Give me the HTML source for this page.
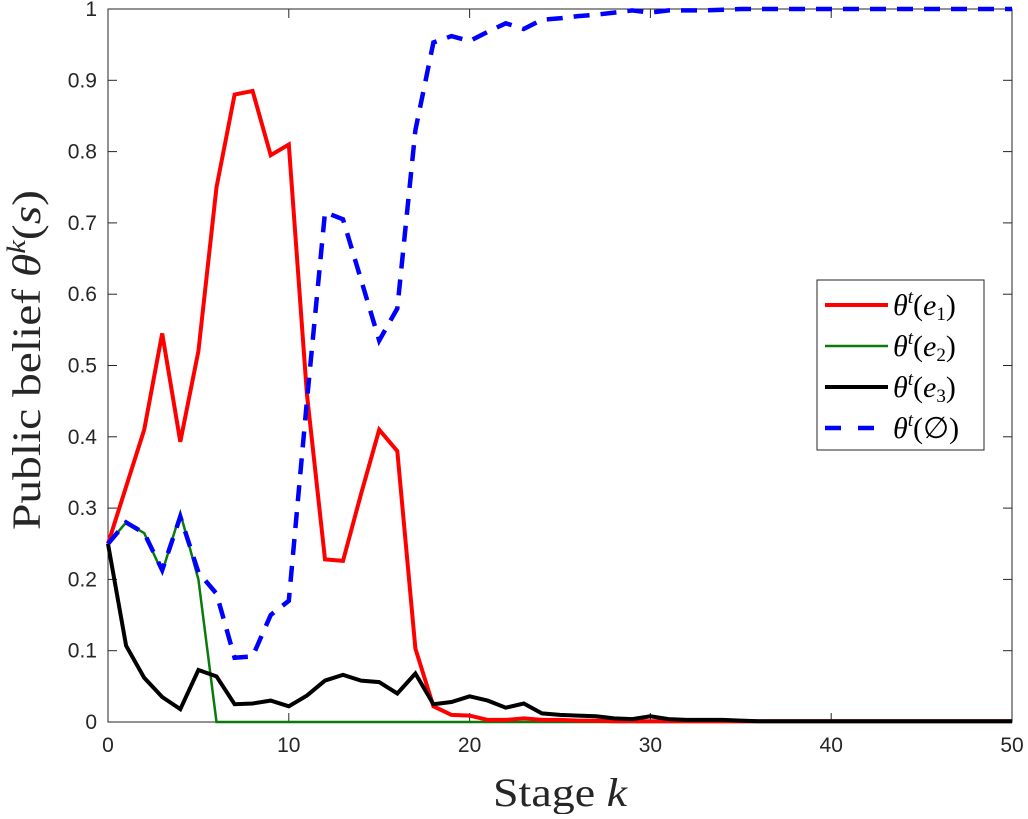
<!DOCTYPE html>
<html><head><meta charset="utf-8"><style>
body{margin:0;background:#fff;width:1028px;height:814px;overflow:hidden}
svg text{font-family:"Liberation Sans",sans-serif}
.s{font-family:"Liberation Serif",serif}
</style></head><body>
<svg id="c" width="1028" height="814" xmlns="http://www.w3.org/2000/svg"></svg>
<script>
const X=k=>108+k*18.08, Y=v=>722-v*713;
const red=[.25,.33,.41,.545,.393,.52,.75,.88,.885,.795,.81,.46,.228,.226,.32,.41,.38,.103,.022,.01,.009,.003,.003,.005,.003,.003,.002,.002,.001,.001,.001,.001,.001,.001,.001,.001];
const green=[.25,.28,.265,.21,.293,.2,0];
const blue=[.25,.28,.265,.213,.288,.21,.18,.09,.092,.15,.17,.45,.715,.705,.62,.535,.58,.83,.953,.962,.955,.968,.98,.972,.985,.987,.99,.992,.995,.998,.995,.998,.998,.998,.999,1];
const black=[.25,.107,.062,.035,.018,.073,.064,.025,.026,.03,.022,.037,.058,.066,.058,.056,.04,.068,.025,.028,.036,.03,.02,.026,.012,.01,.009,.008,.005,.004,.008,.004,.003,.003,.003,.002,.001];
function pts(a){let p=[];for(let k=0;k<=50;k++){p.push(X(k).toFixed(1)+','+Y(k<a.length?a[k]:a[a.length-1]).toFixed(1))}return p.join(' ')}
let s='<rect x="108" y="9" width="904" height="713" fill="#fff" stroke="#262626" stroke-width="1"/>';
for(let i=0;i<=10;i++){let y=Y(i/10);s+=`<line x1="108" x2="117" y1="${y}" y2="${y}" stroke="#262626"/><line x1="1003" x2="1012" y1="${y}" y2="${y}" stroke="#262626"/><text x="97" y="${y+7}" font-size="21" text-anchor="end" fill="#262626">${i==0?0:i==10?1:(i/10).toString()}</text>`}
for(let i=0;i<=5;i++){let x=X(i*10);s+=`<line x1="${x}" x2="${x}" y1="722" y2="713" stroke="#262626"/><line x1="${x}" x2="${x}" y1="9" y2="18" stroke="#262626"/><text x="${x}" y="752" font-size="21" text-anchor="middle" fill="#262626">${i*10}</text>`}
s+=`<polyline points="${pts(green)}" fill="none" stroke="#0a7a0a" stroke-width="2.5"/>`;
s+=`<polyline points="${pts(red)}" fill="none" stroke="#f00" stroke-width="4"/>`;
s+=`<polyline points="${pts(black)}" fill="none" stroke="#000" stroke-width="4"/>`;
s+=`<polyline points="${pts(blue)}" fill="none" stroke="#00f" stroke-width="4.5" stroke-dasharray="16,11"/>`;
s+='<rect x="817" y="280" width="167" height="170" fill="#fff" stroke="#262626"/>';
const L=[['#f00',4,'','e','1'],['#0a7a0a',2.5,'','e','2'],['#000',4,'','e','3'],['#00f',4.5,'16,17','∅','']];
L.forEach((l,i)=>{let y=305+i*41;s+=`<line x1="825" x2="888" y1="${y}" y2="${y}" stroke="${l[0]}" stroke-width="${l[1]}" ${l[2]?'stroke-dasharray="'+l[2]+'"':''}/>`;
s+=`<text class="s" x="893" y="${y+10}" font-size="30"><tspan font-style="italic">θ</tspan><tspan font-size="19" dy="-12" font-style="italic">t</tspan><tspan dy="12">(</tspan><tspan font-style="${l[3]=='e'?'italic':'normal'}">${l[3]}</tspan>${l[4]?'<tspan font-size="19" dy="5">'+l[4]+'</tspan><tspan dy="-5">)</tspan>':'<tspan>)</tspan>'}</text>`});
s+='<text class="s" x="560" y="806" font-size="40" text-anchor="middle" fill="#262626" textLength="134" lengthAdjust="spacingAndGlyphs">Stage <tspan font-style="italic">k</tspan></text>';
s+='<text class="s" transform="translate(40,360) rotate(-90)" font-size="40" text-anchor="middle" fill="#262626" textLength="340" lengthAdjust="spacingAndGlyphs">Public belief <tspan font-style="italic">θ</tspan><tspan font-size="26" dy="-15" font-style="italic">k</tspan><tspan dy="15">(</tspan><tspan font-style="italic">s</tspan>)</text>';
document.getElementById('c').innerHTML=s;
</script>
</body></html>
